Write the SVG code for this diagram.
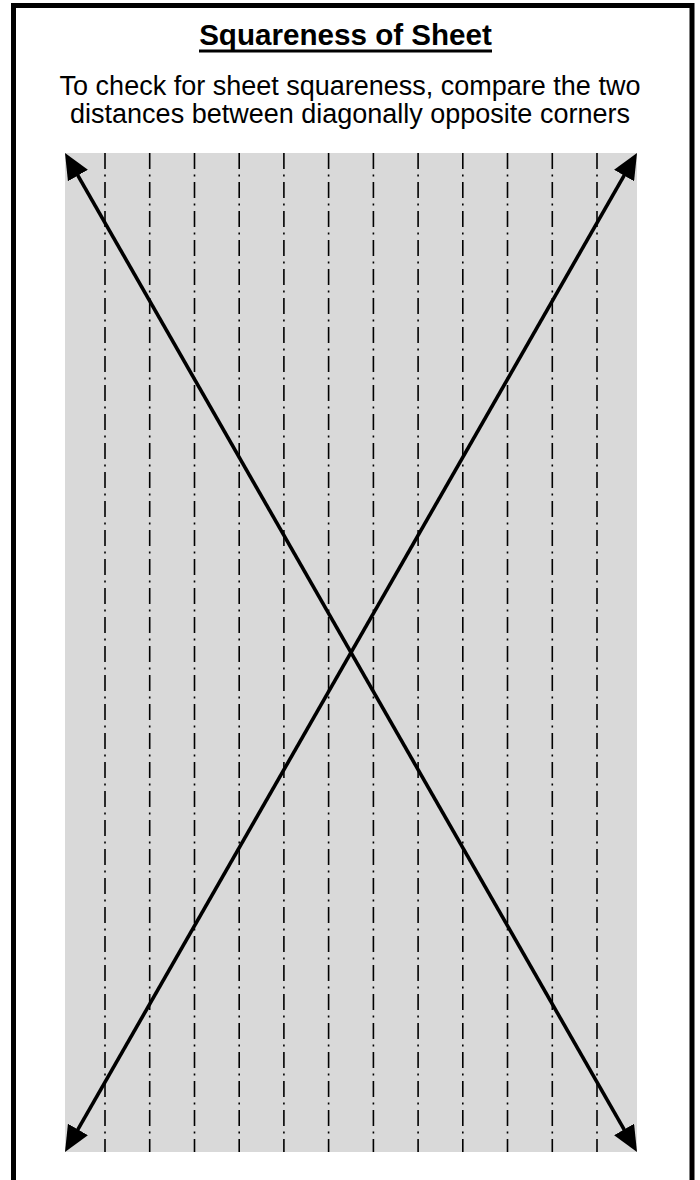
<svg xmlns="http://www.w3.org/2000/svg" width="700" height="1180" viewBox="0 0 700 1180">
<defs>
<style>
.frame{fill:#ffffff;stroke:#000000;stroke-width:5}
.sheet{fill:#d9d9d9;stroke:none}
.grain{stroke:#000000;stroke-width:1.6;stroke-dasharray:16 5.5 2 5.5;fill:none}
.diag{stroke:#000000;stroke-width:3.6;fill:none;marker-start:url(#arrow);marker-end:url(#arrow)}
.title{font-family:"Liberation Sans",Arial,sans-serif;font-size:29.6px;font-weight:bold;text-anchor:middle;fill:#000000}
.sub{font-family:"Liberation Sans",Arial,sans-serif;font-size:27px;text-anchor:middle;fill:#000000}
</style>
<marker id="arrow" viewBox="0 0 26 23" refX="6" refY="11.5" markerWidth="26" markerHeight="23" markerUnits="userSpaceOnUse" orient="auto-start-reverse">
<path d="M0,0 L26,11.5 L0,23 z" fill="#000000"/>
</marker>
</defs>
<rect class="frame" x="13.5" y="5.5" width="678.5" height="1180"/>
<g id="title">
<text class="title" x="345.5" y="45">Squareness of Sheet</text>
<rect x="199" y="49.5" width="293" height="3" fill="#000000"/>
</g>
<g id="instructions">
<text class="sub" x="350" y="95">To check for sheet squareness, compare the two</text>
<text class="sub" x="350" y="123">distances between diagonally opposite corners</text>
</g>
<g id="sheet">
<rect class="sheet" x="65" y="153" width="572" height="999"/>
<g id="grain-lines">
<line class="grain" x1="105" y1="153" x2="105" y2="1152"/>
<line class="grain" x1="149.7" y1="153" x2="149.7" y2="1152"/>
<line class="grain" x1="194.5" y1="153" x2="194.5" y2="1152"/>
<line class="grain" x1="239.2" y1="153" x2="239.2" y2="1152"/>
<line class="grain" x1="283.9" y1="153" x2="283.9" y2="1152"/>
<line class="grain" x1="328.6" y1="153" x2="328.6" y2="1152"/>
<line class="grain" x1="373.4" y1="153" x2="373.4" y2="1152"/>
<line class="grain" x1="418.1" y1="153" x2="418.1" y2="1152"/>
<line class="grain" x1="462.8" y1="153" x2="462.8" y2="1152"/>
<line class="grain" x1="507.5" y1="153" x2="507.5" y2="1152"/>
<line class="grain" x1="552.3" y1="153" x2="552.3" y2="1152"/>
<line class="grain" x1="597" y1="153" x2="597" y2="1152"/>
</g>
</g>
<g id="connectors">
<path class="diag" d="M74.94,170.36 L627.06,1134.64"/>
<path class="diag" d="M627.06,170.36 L74.94,1134.64"/>
</g>
</svg>
